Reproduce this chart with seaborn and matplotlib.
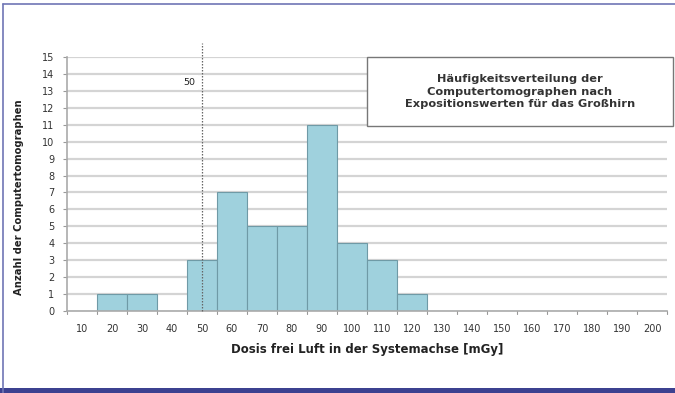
import matplotlib
matplotlib.use("Agg")
import matplotlib.pyplot as plt
from matplotlib.patches import Rectangle
from matplotlib.lines import Line2D
import seaborn as sns
import pandas as pd

categories = [10, 20, 30, 40, 50, 60, 70, 80, 90, 100, 110, 120, 130, 140, 150, 160, 170, 180, 190, 200]
counts = [0, 1, 1, 0, 3, 7, 5, 5, 11, 4, 3, 1, 0, 0, 0, 0, 0, 0, 0, 0]
y_ticks = list(range(0, 16))
ref_value = 50
box_text = "Häufigkeitsverteilung der\nComputertomographen nach\nExpositionswerten für das Großhirn"
x_label = "Dosis frei Luft in der Systemachse [mGy]"
y_label = "Anzahl der Computertomographen"

sns.set_style("white")
plt.rcParams['font.family'] = ['DejaVu Sans']

df = pd.DataFrame({"dose": [str(c) for c in categories], "count": counts})

fig = plt.figure(figsize=(6.75, 3.93), dpi=100)
ax = fig.add_axes([67/675, 1-311/393, 600/675, 254/393])

ax.set_axisbelow(True)
for v in y_ticks[1:]:
    ax.axhline(v, color="#d4d4d4", lw=1.6, zorder=0)

sns.barplot(data=df, x="dose", y="count", order=[str(c) for c in categories],
            color="#9fd1dd", saturation=1, width=1.0, edgecolor="#6f9aa6",
            linewidth=0.8, ax=ax, zorder=2)

ax.set_ylim(0, 15)
ax.set_xlim(-0.5, len(categories) - 0.5)
ax.set_yticks(y_ticks)
ax.set_yticklabels([str(t) for t in y_ticks], fontsize=7, color="#333333")
ax.set_xticks(range(len(categories)))
ax.set_xticklabels([str(c) for c in categories], fontsize=7, color="#333333")
ax.tick_params(axis="x", length=0, pad=9)
ax.tick_params(axis="y", length=3, width=0.8, color="#999999", pad=6, left=True)
for k in range(len(categories) + 1):
    ax.plot([k - 0.5, k - 0.5], [0, -0.15], color="#999999", lw=0.8, clip_on=False)

for s in ["top", "right"]:
    ax.spines[s].set_visible(False)
ax.spines["left"].set_color("#aaaaaa")
ax.spines["bottom"].set_color("#aaaaaa")
ax.spines["left"].set_linewidth(1.2)
ax.spines["bottom"].set_linewidth(1.2)

ax.set_xlabel(x_label, fontsize=8.5, fontweight="bold", color="#222222", labelpad=7)
ax.set_ylabel(y_label, fontsize=7.2, fontweight="bold", color="#222222", labelpad=9)
ax.yaxis.set_label_coords(-0.072, 0.449)

ref_idx = categories.index(ref_value)
ax.plot([ref_idx, ref_idx], [0, 15.8], color="#666666", lw=0.9, ls=(0, (1.2, 1.2)),
        clip_on=False, zorder=3)
ax.text(ref_idx - 0.42, 13.5, str(ref_value), fontsize=6.8, color="#222222",
        ha="center", va="center", zorder=4,
        bbox=dict(facecolor="white", edgecolor="none", pad=2))

ax.add_patch(Rectangle((0.5, 0.728), 0.51, 0.272, transform=ax.transAxes,
                       facecolor="white", edgecolor="#777777", lw=1.0,
                       clip_on=False, zorder=5))
ax.text(0.755, 0.864, box_text, transform=ax.transAxes, fontsize=8.2,
        fontweight="bold", color="#333333", ha="center", va="center",
        linespacing=1.3, zorder=6)

# outer frame: top and left thin lines, thick bottom band
fig.add_artist(Line2D([3/675, 1], [1 - 3.5/393, 1 - 3.5/393], transform=fig.transFigure,
                      color="#6f76b5", lw=1.2))
fig.add_artist(Line2D([3/675, 3/675], [0, 1 - 3.5/393], transform=fig.transFigure,
                      color="#6f76b5", lw=1.2))
fig.patches.append(Rectangle((0, 0), 1, 5/393, transform=fig.transFigure,
                             facecolor="#3c4190", edgecolor="none"))

fig.savefig("out.png", dpi=100)
